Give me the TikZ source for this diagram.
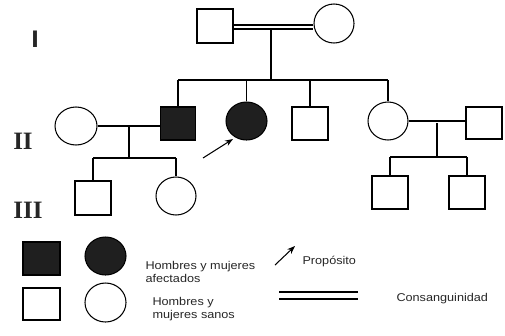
\documentclass[tikz,border=0pt]{standalone}
\usepackage{fontspec}
\setmainfont{Liberation Serif}
\newfontfamily\lgfont{Liberation Sans}[FakeStretch=1.12]
\usetikzlibrary{shapes.geometric,arrows.meta}
\begin{document}
\begin{tikzpicture}[x=1pt,y=-1pt,line width=1.05pt,
  male/.style={draw,rectangle,minimum width=36pt,minimum height=34pt,inner sep=0pt},
  female/.style={draw,ellipse,minimum width=41pt,minimum height=38pt,inner sep=0pt},
  aff/.style={fill=black!88},
  gen/.style={font=\bfseries\fontsize{25}{25}\selectfont,inner sep=0pt,text=black!85},
  lbl/.style={font=\lgfont\fontsize{11.3}{13}\selectfont,align=left,anchor=west,inner sep=0pt,text=black!85},
  prob/.style={-{Stealth[length=8pt,width=6pt]},line width=1.05pt}]
\useasboundingbox (0,0) rectangle (505,335);
% generation labels
\node[gen,font=\lgfont\bfseries\fontsize{24}{24}\selectfont] (gI) at (35,39) {I};
\node[gen] (gII) at (23,141) {II};
\node[gen] (gIII) at (28,210) {III};
% generation I
\node[male] (I1) at (215,26) {};
\node[female,minimum width=40pt,minimum height=39pt] (I2) at (334,23.5) {};
\draw ([yshift=1pt]I1.east) -- ([yshift=1pt]I1.east -| I2.west);
\draw ([yshift=-3pt]I1.east) -- ([yshift=-3pt]I1.east -| I2.west);
\coordinate (m1) at (271,29);
\coordinate (s1) at (271,80);
\draw (m1) -- (s1);
% generation II
\node[female,minimum width=42pt] (II1) at (76,126) {};
\node[male,aff,minimum width=35pt,minimum height=33pt] (II2) at (178,123.5) {};
\node[female,aff] (II3) at (246.5,121) {};
\node[male,minimum height=33pt] (II4) at (310,123.5) {};
\node[female,minimum width=40pt] (II5) at (388,121) {};
\node[male,minimum height=32pt] (II6) at (484,123) {};
\draw (II2.north |- s1) -- (II5.north |- s1);
\foreach \c in {II2,II3,II4,II5} \draw (\c.north |- s1) -- (\c.north);
% left couple
\draw (II1.east) -- (II1.east -| II2.west);
\coordinate (m2) at (129,126);
\coordinate (s2) at (129,158);
\draw (m2) -- (s2);
% right couple
\draw (II5.east) -- (II5.east -| II6.west);
\coordinate (m3) at (437,123);
\coordinate (s3) at (437,157);
\draw (m3) -- (s3);
% generation III
\node[male] (III1) at (93,198) {};
\node[female,minimum width=40pt] (III2) at (176,196) {};
\node[male,minimum height=33pt] (III3) at (390,192.5) {};
\node[male,minimum height=33pt] (III4) at (467,192.5) {};
\draw (III1.north |- s2) -- (III2.north |- s2);
\foreach \c in {III1,III2} \draw (\c.north |- s2) -- (\c.north);
\draw (III3.north |- s3) -- (III4.north |- s3);
\foreach \c in {III3,III4} \draw (\c.north |- s3) -- (\c.north);
% proband arrow
\coordinate (p0) at (203,158);
\coordinate (p1) at (233,139);
\draw[prob] (p0) -- (p1);
% legend
\node[male,aff,minimum width=37pt,minimum height=33pt] (L1) at (41.5,258.5) {};
\node[female,aff] (L2) at (105.5,256) {};
\node[male,minimum width=37pt,minimum height=32pt] (L3) at (41.5,304) {};
\node[female,minimum height=39pt] (L4) at (105.5,302.5) {};
\node[lbl] (t1) at (145,271.5) {Hombres y mujeres\\afectados};
\node[lbl] (t2) at (152,309.5) {Hombres y\\mujeres sanos};
\coordinate (q0) at (275,265);
\coordinate (q1) at (295,246);
\draw[prob] (q0) -- (q1);
\node[lbl] (t3) at (302,262) {Propósito};
\coordinate (d0) at (279,292);
\coordinate (d1) at (358,292);
\coordinate (d2) at (279,299);
\coordinate (d3) at (358,299);
\draw (d0) -- (d1);
\draw (d2) -- (d3);
\node[lbl] (t4) at (396,299) {Consanguinidad};
\end{tikzpicture}
\end{document}
